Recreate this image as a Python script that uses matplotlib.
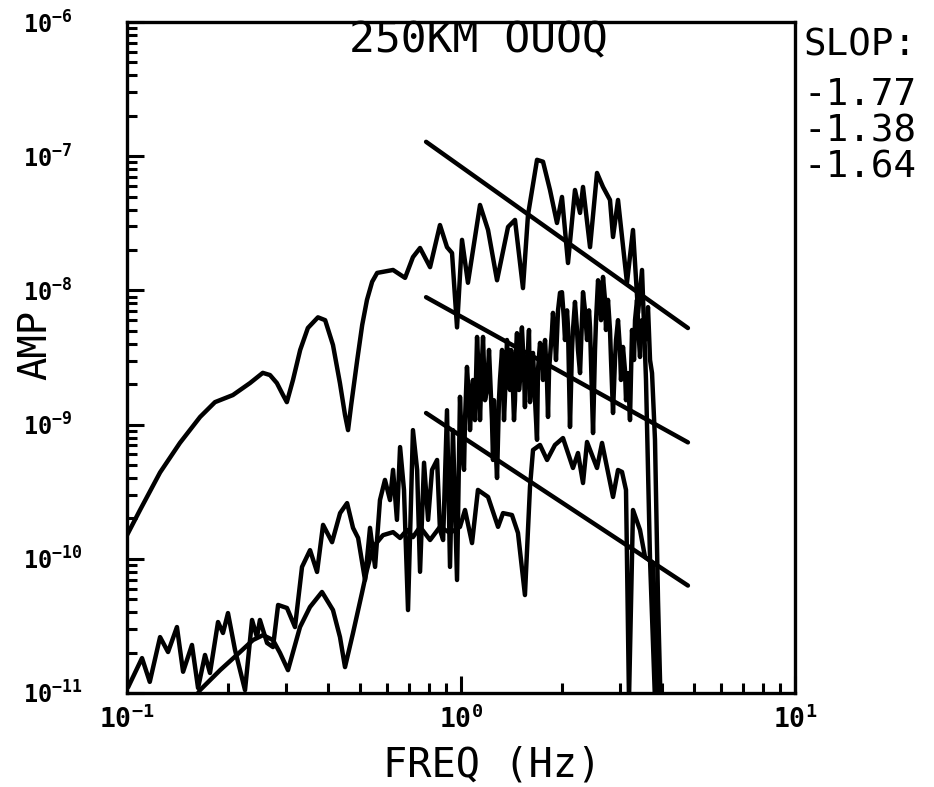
import numpy as np
import matplotlib
matplotlib.use("Agg")
import matplotlib.pyplot as plt

# spectra (frequency in Hz, amplitude)
top_freq = [0.100, 0.1094, 0.1256, 0.144, 0.1655, 0.1834, 0.2075, 0.2335, 0.255, 0.268,
            0.281, 0.2932, 0.301, 0.314, 0.330, 0.348, 0.373, 0.392, 0.4137, 0.434,
            0.4495, 0.459, 0.469, 0.489, 0.506, 0.523, 0.542, 0.561, 0.626, 0.680,
            0.718, 0.754, 0.808, 0.865, 0.908, 0.940, 0.973, 1.007, 1.049, 1.140,
            1.205, 1.282, 1.383, 1.451, 1.533, 1.587, 1.689, 1.760, 1.847, 1.938,
            2.006, 2.091, 2.194, 2.272, 2.319, 2.434, 2.554, 2.662, 2.793, 2.852,
            2.952, 3.14, 3.273, 3.39, 3.483, 3.58, 3.681, 3.809]
top_amp = [1.5e-10, 2.31e-10, 4.4e-10, 7.3e-10, 1.14e-9, 1.47e-9, 1.66e-9, 2.04e-9, 2.43e-9, 2.34e-9,
           2.04e-9, 1.66e-9, 1.47e-9, 2.15e-9, 3.6e-9, 5.25e-9, 6.3e-9, 6.0e-9, 3.92e-9, 2.04e-9,
           1.18e-9, 9.1e-10, 1.4e-9, 3.03e-9, 5.52e-9, 8.5e-9, 1.16e-8, 1.35e-8, 1.42e-8, 1.24e-8,
           1.77e-8, 2.07e-8, 1.49e-8, 3.07e-8, 2.1e-8, 1.9e-8, 5.3e-9, 2.38e-8, 1.14e-8, 4.33e-8,
           2.82e-8, 1.19e-8, 2.97e-8, 3.35e-8, 1.04e-8, 3.65e-8, 9.4e-8, 9.1e-8, 5.6e-8, 3.18e-8,
           4.97e-8, 1.6e-8, 5.6e-8, 3.78e-8, 5.9e-8, 2.1e-8, 7.5e-8, 5.9e-8, 4.72e-8, 2.5e-8,
           4.72e-8, 1.14e-8, 2.82e-8, 6.8e-9, 1.42e-8, 2.15e-9, 9.8e-11, 8.9e-12]

mid_freq = [0.1007, 0.1109, 0.117, 0.1256, 0.1327, 0.1411, 0.1472, 0.1565, 0.1632, 0.1712,
            0.1772, 0.1873, 0.1938, 0.2006, 0.2106, 0.2256, 0.2368, 0.245, 0.25, 0.2626,
            0.2736, 0.2834, 0.3013, 0.3184, 0.3342, 0.3532, 0.3707, 0.3864, 0.4111, 0.4345,
            0.456, 0.475, 0.492, 0.516, 0.534, 0.553, 0.572, 0.592,
            0.613, 0.626, 0.643, 0.657, 0.675, 0.694, 0.718, 0.739, 0.754, 0.775,
            0.797, 0.819, 0.848, 0.865, 0.884, 0.908, 0.927, 0.946, 0.973, 0.993,
            1.007, 1.021, 1.028, 1.042, 1.057, 1.064, 1.079, 1.086, 1.101, 1.117,
            1.132, 1.140, 1.156, 1.164, 1.180, 1.196, 1.213, 1.221, 1.238, 1.247,
            1.255, 1.264, 1.282, 1.299, 1.308, 1.327, 1.345, 1.364, 1.373, 1.392,
            1.402, 1.412, 1.421, 1.441, 1.451, 1.461, 1.471, 1.492, 1.502, 1.512,
            1.522, 1.544, 1.554, 1.565, 1.576, 1.598, 1.609, 1.631, 1.643, 1.666,
            1.689, 1.700, 1.724, 1.748, 1.760, 1.772, 1.785, 1.809, 1.822, 1.835,
            1.847, 1.873, 1.885, 1.912, 1.925, 1.952, 1.979, 2.006, 2.034, 2.048,
            2.077, 2.091, 2.120, 2.149, 2.164, 2.194, 2.225, 2.240, 2.272, 2.303,
            2.319, 2.351, 2.384, 2.417, 2.434, 2.485, 2.519, 2.537, 2.572, 2.608,
            2.626, 2.662, 2.699, 2.717, 2.755, 2.793, 2.813, 2.852, 2.891, 2.912,
            2.952, 2.993, 3.013, 3.055, 3.097, 3.119, 3.162, 3.206, 3.251, 3.296,
            3.319, 3.365, 3.411, 3.435, 3.483, 3.507, 3.556, 3.605, 3.630, 3.681,
            3.732, 3.809, 3.889, 3.971]
mid_amp = [1.1e-11, 1.82e-11, 1.21e-11, 2.61e-11, 2.02e-11, 3.1e-11, 1.44e-11, 2.28e-11, 1.09e-11, 1.92e-11,
           1.41e-11, 3.38e-11, 2.8e-11, 3.94e-11, 2.09e-11, 1.05e-11, 3.5e-11, 2.61e-11, 3.5e-11, 2.36e-11,
           2.2e-11, 4.53e-11, 4.3e-11, 3.1e-11, 8.7e-11, 1.16e-10, 7.98e-11, 1.79e-10, 1.33e-10, 2.19e-10,
           2.6e-10, 1.7e-10, 1.43e-10, 6.95e-11, 1.7e-10, 8.7e-11, 2.74e-10, 3.87e-10,
           2.74e-10, 4.6e-10, 1.95e-10, 6.8e-10, 3.26e-10, 4.15e-11, 9.1e-10, 4.6e-10, 8.0e-11, 5.2e-10,
           1.95e-10, 4.6e-10, 5.45e-10, 1.64e-10, 1.38e-10, 1.28e-9, 8.7e-11, 9.1e-10, 6.95e-11, 1.61e-9,
           6.47e-10, 4.6e-10, 1.08e-9, 2.69e-9, 1.52e-9, 9.1e-10, 1.81e-9, 2.15e-9, 1.08e-9, 4.5e-9,
           2.15e-9, 1.08e-9, 3.03e-9, 4.5e-9, 1.52e-9, 1.81e-9, 3.6e-9, 2.42e-9, 1.08e-9, 5.45e-10,
           1.52e-9, 8.65e-10, 4.0e-10, 1.52e-9, 2.15e-9, 3.6e-9, 1.08e-9, 2.55e-9, 4.27e-9, 2.15e-9,
           1.81e-9, 3.6e-9, 3.03e-9, 1.08e-9, 1.52e-9, 3.6e-9, 4.8e-9, 1.81e-9, 2.15e-9, 4.27e-9,
           5.3e-9, 2.55e-9, 1.35e-9, 3.03e-9, 2.55e-9, 5.07e-9, 1.47e-9, 2.55e-9, 3.42e-9, 1.52e-9,
           7.7e-10, 2.55e-9, 4.06e-9, 3.03e-9, 2.15e-9, 3.6e-9, 4.27e-9, 2.15e-9, 1.14e-9, 2.55e-9,
           3.19e-9, 5.07e-9, 6.8e-9, 4.27e-9, 3.03e-9, 7.1e-9, 9.6e-9, 9.7e-9, 6.0e-9, 4.27e-9,
           7.1e-9, 5.3e-9, 9.6e-10, 3.6e-9, 5.07e-9, 8.2e-9, 5.07e-9, 3.6e-9, 2.42e-9, 6.0e-9,
           9.7e-9, 7.1e-9, 4.27e-9, 7.1e-9, 5.3e-9, 8.65e-10, 3.6e-9, 6.0e-9, 1.19e-8, 8.5e-9,
           6.0e-9, 1.26e-8, 8.5e-9, 5.07e-9, 8.5e-9, 5.07e-9, 3.03e-9, 1.22e-9, 3.03e-9, 4.27e-9,
           6.0e-9, 3.6e-9, 2.15e-9, 3.79e-9, 2.55e-9, 1.52e-9, 2.42e-9, 1.08e-9, 5.07e-9, 3.03e-9,
           6.0e-9, 8.5e-9, 4.27e-9, 3.19e-9, 6.0e-9, 5.07e-9, 4.27e-9, 6.0e-9, 7.5e-9, 3.03e-9,
           2.42e-9, 7.7e-10, 4.93e-11, 6.3e-12]

low_freq = [0.1545, 0.1654, 0.190, 0.218, 0.2383, 0.2554, 0.2736, 0.2871, 0.3034, 0.3296,
            0.353, 0.3835, 0.4137, 0.4342, 0.4495, 0.475, 0.5052, 0.5229, 0.545, 0.584,
            0.626, 0.657, 0.689, 0.718, 0.754, 0.808, 0.865, 0.927, 0.993, 1.028,
            1.079, 1.124, 1.205, 1.291, 1.336, 1.421, 1.481, 1.554, 1.609, 1.643,
            1.724, 1.810, 1.911, 2.020, 2.164, 2.240, 2.319, 2.384, 2.554, 2.644,
            2.852, 2.952, 3.034, 3.119, 3.184, 3.273, 3.435, 3.556, 3.758, 3.889]
low_amp = [8.1e-12, 1.05e-11, 1.48e-11, 2.02e-11, 2.48e-11, 2.7e-11, 2.48e-11, 1.99e-11, 1.48e-11, 3.1e-11,
           4.37e-11, 5.66e-11, 4.15e-11, 2.61e-11, 1.56e-11, 2.8e-11, 5.56e-11, 8.26e-11, 1.22e-10, 1.5e-10,
           1.58e-10, 1.43e-10, 1.64e-10, 1.45e-10, 1.73e-10, 1.38e-10, 1.73e-10, 1.56e-10, 1.73e-10, 2.31e-10,
           1.31e-10, 3.26e-10, 2.89e-10, 1.73e-10, 2.19e-10, 2.12e-10, 1.56e-10, 5.37e-11, 3.43e-10, 6.47e-10,
           7.05e-10, 5.45e-10, 7.05e-10, 7.94e-10, 4.75e-10, 6.14e-10, 3.67e-10, 7.42e-10, 4.75e-10, 7.3e-10,
           2.89e-10, 4.59e-10, 4.44e-10, 3.26e-10, 8.9e-12, 2.31e-10, 1.64e-10, 1.03e-10, 9.3e-11, 8.9e-12]

# straight-line fits: slope and amplitude at the first frequency
fit_slopes = [-1.77, -1.38, -1.64]
fit_start_amp = [1.28e-7, 8.9e-9, 1.22e-9]
fit_freq = [0.786, 4.78]

xtick_exp = [-1, 0, 1]
ytick_exp = [-11, -10, -9, -8, -7, -6]

plt.rcParams['font.family'] = ['DejaVu Sans Mono']
plt.rcParams['mathtext.fontset'] = 'custom'
plt.rcParams['mathtext.rm'] = 'DejaVu Sans Mono'
plt.rcParams['mathtext.bf'] = 'DejaVu Sans Mono:bold'

fig = plt.figure(figsize=(9.34, 7.87), dpi=100)
ax = fig.add_axes([127 / 934, 1 - 693 / 787, 668 / 934, 671 / 787])

LW = 3.2
for f, a in ((top_freq, top_amp), (mid_freq, mid_amp), (low_freq, low_amp)):
    ax.plot(f, a, color='black', lw=LW, solid_joinstyle='round', solid_capstyle='round')

ff = np.array(fit_freq)
for s, a0 in zip(fit_slopes, fit_start_amp):
    ax.plot(ff, a0 * (ff / ff[0]) ** s, color='black', lw=LW, solid_capstyle='round')

ax.set_xscale('log')
ax.set_yscale('log')
ax.set_xlim(0.1, 10)
ax.set_ylim(1e-11, 1e-6)

for sp in ax.spines.values():
    sp.set_linewidth(2.4)

ax.set_xticks([10.0 ** k for k in xtick_exp],
              labels=[r'$\mathregular{10^{%d}}$' % k for k in xtick_exp])
ax.set_yticks([10.0 ** k for k in ytick_exp],
              labels=[r'$\mathregular{10^{%d}}$' % k for k in ytick_exp])
ax.tick_params(which='both', direction='in', top=False, right=False, width=2.2)
ax.tick_params(which='major', length=12)
ax.tick_params(which='minor', length=7)
ax.tick_params(axis='x', which='major', pad=9, labelsize=19)
ax.tick_params(axis='y', which='major', pad=75, labelsize=17)
for lbl in ax.get_yticklabels():
    lbl.set_horizontalalignment('left')
    lbl.set_fontweight('bold')
for lbl in ax.get_xticklabels():
    lbl.set_fontweight('bold')

fig.text(478 / 934, 1 - 40 / 787, '250KM OUOQ', fontsize=31, ha='center', va='center')
fig.text(35 / 934, 1 - 345 / 787, 'AMP', fontsize=28, rotation=90, ha='center', va='center')
fig.text(492 / 934, 1 - 765 / 787, 'FREQ (Hz)', fontsize=29, ha='center', va='center')

fig.text(803 / 934, 1 - 45 / 787, 'SLOP:', fontsize=27, ha='left', va='center')
for i, s in enumerate(fit_slopes):
    fig.text(803 / 934, 1 - (95 + 36 * i) / 787, f'{s:.2f}', fontsize=27, ha='left', va='center')

fig.savefig('out.png', dpi=100)
